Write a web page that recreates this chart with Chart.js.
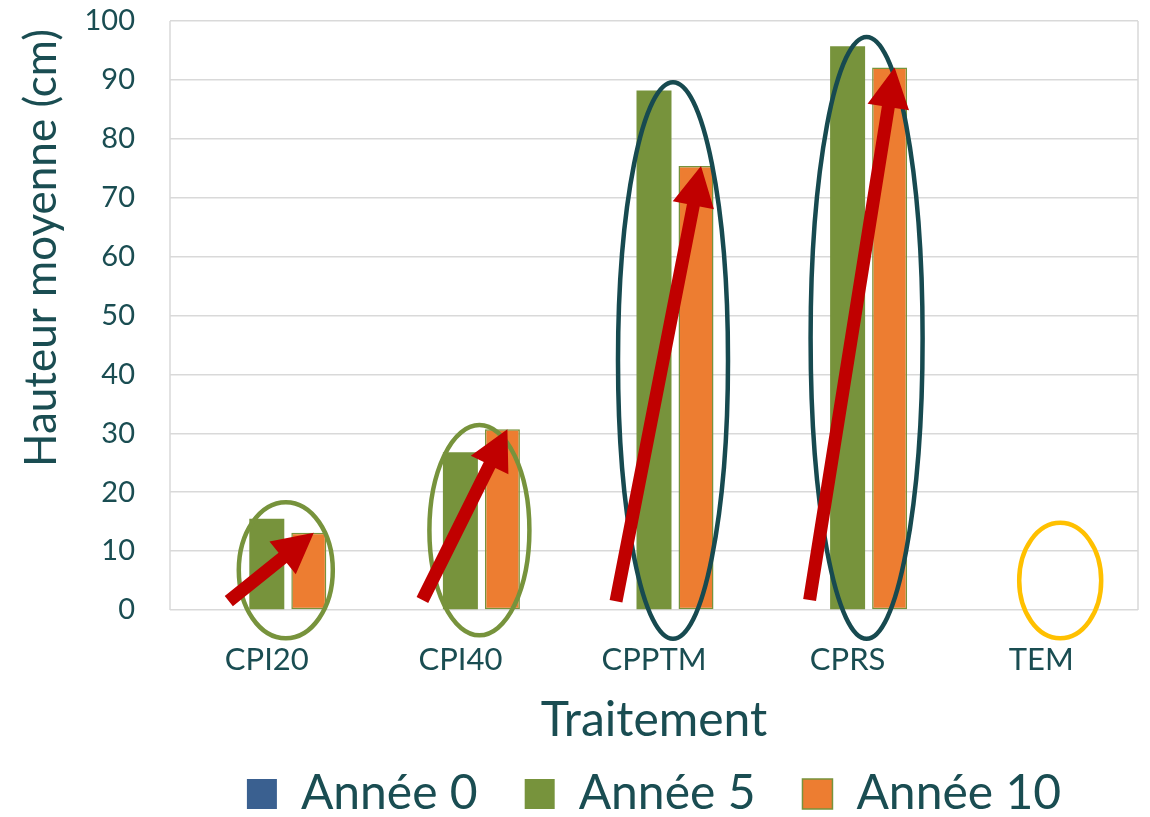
<!DOCTYPE html>
<html>
<head>
<meta charset="utf-8">
<script src="https://cdn.jsdelivr.net/npm/chart.js@4.4.1/dist/chart.umd.min.js"></script>
<style>
  html, body { margin: 0; padding: 0; background: #ffffff; }
  #wrap { width: 1150px; height: 817px; }
</style>
</head>
<body>
<div id="wrap"><canvas id="c" width="1150" height="817"></canvas></div>
<script>
// Hauteur moyenne par traitement (cm)
const categories = ['CPI20', 'CPI40', 'CPPTM', 'CPRS', 'TEM'];
const annee0  = [0, 0, 0, 0, 0];
const annee5  = [15.5, 26.8, 88.2, 95.7, null];
const annee10 = [13.1, 30.7, 75.4, 92.1, null];
const seriesNames = ['Année 0', 'Année 5', 'Année 10'];

const TEXT = '#1A4D52';
const FONT = "Lato, 'Open Sans', sans-serif";

// Groupes entourés (bornes en cm, demi-largeur en px)
const ellipses = [
  { cat: 0, low: -4.8, high: 18.3, halfWidth: 47, color: '#77933C' },
  { cat: 1, low: -4.3, high: 31.4, halfWidth: 50, color: '#77933C' },
  { cat: 2, low: -4.9, high: 89.6, halfWidth: 55, color: '#174A50' },
  { cat: 3, low: -4.9, high: 97.3, halfWidth: 56, color: '#174A50' },
  { cat: 4, low: -4.8, high: 14.8, halfWidth: 41, color: '#FFC000' }
];
// Flèches de progression : de la base du groupe vers le sommet de la barre Année 10
const arrows = [
  { cat: 0, from: 1.5 },
  { cat: 1, from: 1.7 },
  { cat: 2, from: 1.5 },
  { cat: 3, from: 1.7 }
];

function drawArrow(ctx, x0, y0, x1, y1, shaft, headLen, headW) {
  const dx = x1 - x0, dy = y1 - y0, len = Math.hypot(dx, dy);
  const ux = dx / len, uy = dy / len, px = -uy, py = ux;
  const bx = x1 - ux * headLen, by = y1 - uy * headLen;
  ctx.beginPath();
  ctx.moveTo(x0 + px * shaft / 2, y0 + py * shaft / 2);
  ctx.lineTo(bx + px * shaft / 2, by + py * shaft / 2);
  ctx.lineTo(bx + px * headW / 2, by + py * headW / 2);
  ctx.lineTo(x1, y1);
  ctx.lineTo(bx - px * headW / 2, by - py * headW / 2);
  ctx.lineTo(bx - px * shaft / 2, by - py * shaft / 2);
  ctx.lineTo(x0 - px * shaft / 2, y0 - py * shaft / 2);
  ctx.closePath();
  ctx.fill();
}

const framePlugin = {
  id: 'frame',
  beforeDatasetsDraw(chart) {
    const { ctx, chartArea: a } = chart;
    ctx.save();
    ctx.strokeStyle = '#D9D9D9';
    ctx.lineWidth = 1.5;
    ctx.beginPath();
    ctx.moveTo(a.left, a.top); ctx.lineTo(a.left, a.bottom);
    ctx.moveTo(a.right, a.top); ctx.lineTo(a.right, a.bottom);
    ctx.stroke();
    ctx.restore();
  }
};

const annotationPlugin = {
  id: 'groupes',
  afterDatasetsDraw(chart) {
    const { ctx } = chart;
    const xs = chart.scales.x, ys = chart.scales.y;
    ctx.save();
    ctx.lineWidth = 4.5;
    ellipses.forEach(e => {
      const cx = xs.getPixelForValue(e.cat) + 19;
      const yTop = ys.getPixelForValue(e.high), yBot = ys.getPixelForValue(e.low);
      ctx.strokeStyle = e.color;
      ctx.beginPath();
      ctx.ellipse(cx, (yTop + yBot) / 2, e.halfWidth, (yBot - yTop) / 2, 0, 0, Math.PI * 2);
      ctx.stroke();
    });
    ctx.fillStyle = '#C00000';
    const bars10 = chart.getDatasetMeta(2).data;
    arrows.forEach(a => {
      const x0 = xs.getPixelForValue(a.cat) - 38;
      const y0 = ys.getPixelForValue(a.from);
      const x1 = bars10[a.cat].x + 5;
      const y1 = ys.getPixelForValue(annee10[a.cat]);
      drawArrow(ctx, x0, y0, x1, y1, 13, 40, 42);
    });
    ctx.restore();
  }
};

const yTitlePlugin = {
  id: 'yTitle',
  afterDraw(chart) {
    const { ctx } = chart;
    ctx.save();
    ctx.translate(42, 248);
    ctx.rotate(-Math.PI / 2);
    ctx.font = '44px ' + FONT;
    ctx.fillStyle = TEXT;
    ctx.textAlign = 'center';
    ctx.textBaseline = 'middle';
    ctx.fillText('Hauteur moyenne (cm)', 0, 0);
    ctx.restore();
  }
};

new Chart(document.getElementById('c'), {
  type: 'bar',
  data: {
    labels: categories,
    datasets: [
      { label: seriesNames[0], data: annee0, backgroundColor: '#3A6090', borderWidth: 0 },
      { label: seriesNames[1], data: annee5, backgroundColor: '#77933C', borderWidth: 0 },
      { label: seriesNames[2], data: annee10, backgroundColor: '#ED7D31', borderColor: '#77933C', borderWidth: 1.5, borderSkipped: false }
    ]
  },
  options: {
    responsive: false,
    animation: false,
    devicePixelRatio: 1,
    datasets: { bar: { categoryPercentage: 0.651, barPercentage: 0.833 } },
    layout: { padding: { top: 21, right: 12, bottom: -11, left: 0 } },
    plugins: {
      tooltip: { enabled: false },
      legend: {
        position: 'bottom',
        fullSize: false,
        labels: {
          font: { family: FONT, size: 48 },
          color: TEXT,
          boxWidth: 30,
          boxHeight: 30,
          padding: 47
        }
      }
    },
    scales: {
      x: {
        grid: { display: false, drawTicks: false },
        border: { display: false },
        ticks: { font: { family: FONT, size: 31 }, color: TEXT, padding: 31 },
        title: {
          display: true,
          text: 'Traitement',
          font: { family: FONT, size: 48, lineHeight: 1 },
          color: TEXT,
          padding: { top: 0, bottom: -22 }
        },
        afterFit(scale) { scale.height = 113; }
      },
      y: {
        min: 0,
        max: 100,
        ticks: { stepSize: 10, font: { family: FONT, size: 29 }, color: TEXT, padding: 35 },
        grid: { color: '#D9D9D9', lineWidth: 1.5, drawTicks: false },
        border: { display: false },
        afterFit(scale) {
          scale.width = 170;
          scale.paddingTop = 18;
          scale.paddingBottom = 18;
        }
      }
    }
  },
  plugins: [framePlugin, annotationPlugin, yTitlePlugin]
});
</script>
</body>
</html>
